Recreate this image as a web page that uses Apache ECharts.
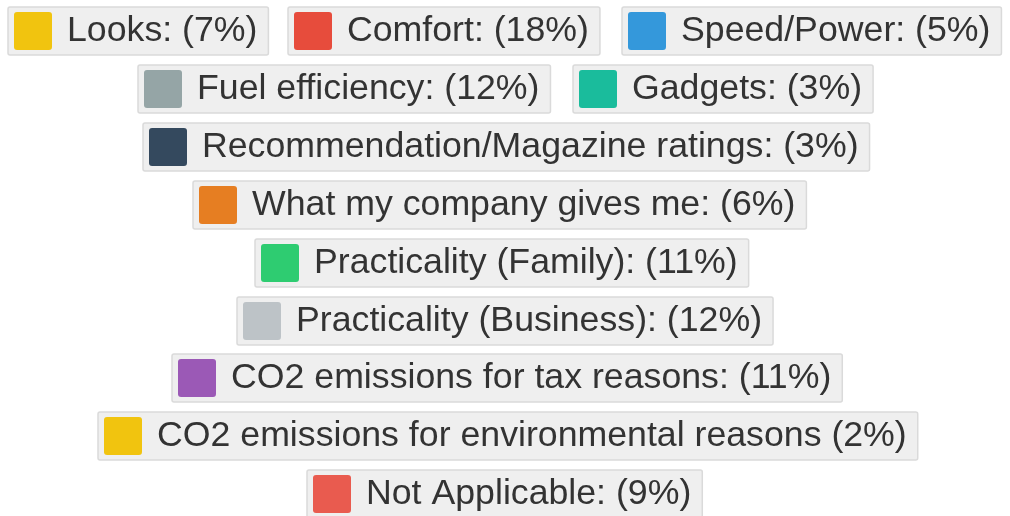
<!DOCTYPE html>
<html>
<head>
<meta charset="utf-8">
<style>
  html, body { margin: 0; padding: 0; background: #fff; }
  #chart { width: 1010px; height: 516px; }
</style>
<script src="https://cdn.jsdelivr.net/npm/echarts@6/dist/echarts.min.js"></script>
</head>
<body>
<div id="chart"></div>
<script>
// reasons for choosing a car
const reasons = [
  "Looks:", "Comfort:", "Speed/Power:", "Fuel efficiency:", "Gadgets:",
  "Recommendation/Magazine ratings:", "What my company gives me:",
  "Practicality (Family):", "Practicality (Business):",
  "CO2 emissions for tax reasons:", "CO2 emissions for environmental reasons",
  "Not Applicable:"
];
const shares = [7, 18, 5, 12, 3, 3, 6, 11, 12, 11, 2, 9];
const colors = [
  "#f1c40f", "#e74c3c", "#3498db", "#95a5a6", "#1abc9c", "#34495e",
  "#e67e22", "#2ecc71", "#bdc3c7", "#9b59b6", "#f1c40f", "#e95b4f"
];

// box placement (left, top) for each legend item
const boxPos = [
  [8, 7], [288, 7], [622, 7],
  [138, 65], [573, 65],
  [143, 123], [193, 181], [255, 239], [237, 297],
  [172, 354], [98, 412], [307, 470]
];

let shareOf = {};
reasons.forEach((r, i) => { shareOf[r] = shares[i]; });

// square with slightly rounded corners
const squareIcon = "path://M8,0H92Q100,0 100,8V92Q100,100 92,100H8Q0,100 0,92V8Q0,0 8,0Z";

let myChart = echarts.init(document.getElementById("chart"));

let option = {
  animation: false,
  color: colors,
  legend: reasons.map((r, i) => ({
    data: [r],
    left: boxPos[i][0],
    top: boxPos[i][1],
    orient: "horizontal",
    selectedMode: false,
    icon: squareIcon,
    itemWidth: 38,
    itemHeight: 38,
    padding: [5, 11, 5, 6],
    backgroundColor: "#efefef",
    borderColor: "#dadada",
    borderWidth: 1.5,
    borderRadius: 2,
    formatter: name => name + " (" + shareOf[name] + "%)",
    textStyle: {
      fontFamily: "Liberation Sans",
      fontSize: 35.7,
      color: "#333",
      padding: [0, 0, 0, 10]
    }
  })),
  series: [{
    type: "pie",
    radius: [0, 0],
    center: [-100, -100],
    label: { show: false },
    data: reasons.map((r, i) => ({ name: r, value: shares[i] }))
  }]
};

myChart.setOption(option);
</script>
</body>
</html>
